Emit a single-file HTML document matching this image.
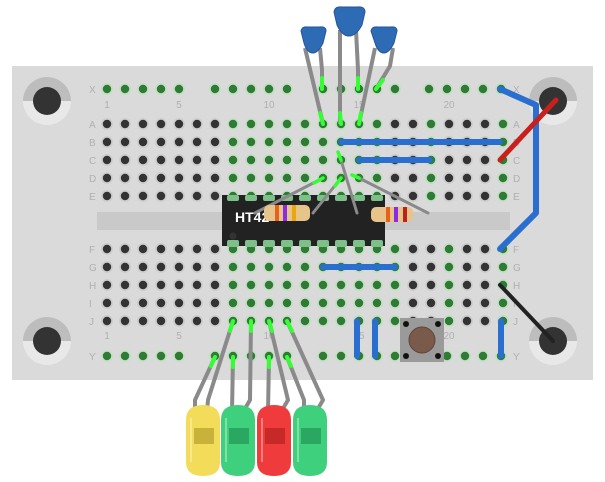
<!DOCTYPE html>
<html><head><meta charset="utf-8"><style>
html,body{margin:0;padding:0;background:#fff;width:605px;height:482px;overflow:hidden}
svg{display:block}
text{font-family:"Liberation Sans",sans-serif}
</style></head><body>
<svg id="s" width="605" height="482" viewBox="0 0 605 482" xmlns="http://www.w3.org/2000/svg">
<rect x="12" y="66" width="581" height="314" fill="#dadada"/>
<rect x="97" y="212" width="413" height="18" fill="#c9c9c9"/>
<g id="mounts"></g>
<g id="holes"></g>
<g id="labels" fill="#b0b0b0" font-size="10"></g>
<rect x="222" y="195" width="163" height="51" fill="#222"/>
<circle cx="233" cy="236" r="3.5" fill="#333"/>
<text x="235" y="222" fill="#fff" font-size="14" font-weight="bold">HT42</text>
<g id="pins" fill="#7fbf8a"></g>
<g stroke="#8a8a8a" stroke-width="3" fill="none" stroke-linecap="round">
<path d="M255 213 L323 178"/><path d="M313 213 L341 178"/>
<path d="M357 213 L341 160"/><path d="M428 213 L359 178"/>
</g>
<g stroke="#3f3" stroke-width="3.5" stroke-linecap="round">
<path d="M314 183 L323 178"/><path d="M335 186 L341 178"/>
<path d="M338 152 L341 160"/><path d="M352 175 L359 178"/>
</g>
<g>
<rect x="264" y="205" width="46" height="16" rx="5" fill="#e6c48a"/>
<rect x="275" y="205" width="4" height="16" fill="#e8601c"/><rect x="283" y="205" width="4" height="16" fill="#8b2be2"/><rect x="292" y="205" width="4" height="16" fill="#e8a80c"/>
<rect x="371" y="207" width="42" height="15" rx="5" fill="#e6c48a"/>
<rect x="386" y="207" width="4" height="15" fill="#e8601c"/><rect x="394" y="207" width="4" height="15" fill="#8b2be2"/><rect x="403" y="207" width="4" height="15" fill="#c0201c"/>
</g>
<g stroke="#2a6fd0" stroke-width="6" stroke-linecap="round" fill="none">
<path d="M341 142 L500 142"/><path d="M359 160 L430 160"/><path d="M323 267 L395 267"/>
<path d="M357 321 L357 356"/><path d="M375 321 L375 356"/><path d="M501 321 L501 356"/>
<path d="M500 89 L536 105 L536 213 L500 249" stroke-linejoin="round"/>
</g>
<path d="M500 160 L556 100" stroke="#c8201c" stroke-width="5" stroke-linecap="round"/>
<path d="M500 285 L553 341" stroke="#222" stroke-width="4" stroke-linecap="round"/>
<rect x="400" y="318" width="44" height="44" fill="#9a9a9a"/>
<circle cx="422" cy="340" r="13" fill="#7a5a4a" stroke="#5e4538"/>
<g fill="#111"><circle cx="406" cy="324" r="3"/><circle cx="438" cy="324" r="3"/><circle cx="406" cy="356" r="3"/><circle cx="438" cy="356" r="3"/></g>
<g stroke="#8a8a8a" stroke-width="4" fill="none" stroke-linejoin="round">
<path d="M305 48 L323 124"/><path d="M320 48 L322 70 L322 89"/>
<path d="M340 30 L340 124"/><path d="M356 30 L358 70 L358 89"/>
<path d="M375 48 L359 124"/><path d="M393 48 L390 66 L376 89"/>
</g>
<g stroke="#3f3" stroke-width="4" stroke-linecap="round">
<path d="M322 78 L322 89"/><path d="M358 78 L358 89"/><path d="M383 80 L376 89"/>
<path d="M320 113 L323 124"/><path d="M340 113 L341 124"/><path d="M361 113 L359 124"/>
</g>
<g fill="#2d6cb5" stroke="#24569a">
<path d="M301 31 Q302 26 308 27 L319 27 Q326 26 326 31 L323 43 Q318 53 313 53 Q307 53 304 43 Z"/>
<path d="M334 12 Q335 6 342 7 L357 7 Q365 6 365 12 L362 25 Q356 36 349 36 Q342 36 337 25 Z"/>
<path d="M371 31 Q372 26 378 27 L390 27 Q397 26 397 31 L394 43 Q389 53 384 53 Q378 53 375 43 Z"/>
</g>
<g stroke="#8a8a8a" stroke-width="4" fill="none" stroke-linejoin="round">
<path d="M215 357 L195 400 L195 412"/><path d="M233 321 L208 400 L207 412"/>
<path d="M233 357 L232 412"/><path d="M251 321 L250 400 L243 412"/>
<path d="M269 357 L268 412"/><path d="M269 321 L288 400 L281 412"/>
<path d="M287 357 L304 400 L304 412"/><path d="M287 321 L323 400 L316 412"/>
</g>
<g stroke="#3f3" stroke-width="4" stroke-linecap="round">
<path d="M215 357 L211 366"/><path d="M233 321 L230 331"/><path d="M233 357 L233 367"/><path d="M251 321 L251 331"/>
<path d="M269 357 L269 367"/><path d="M269 321 L272 331"/><path d="M287 357 L291 366"/><path d="M287 321 L292 331"/>
</g>
<g id="leds"></g>
</svg>
<script>
var NS="http://www.w3.org/2000/svg";
function el(p,t,a){var e=document.createElementNS(NS,t);for(var k in a)e.setAttribute(k,a[k]);p.appendChild(e);return e}
var H=document.getElementById('holes'),L=document.getElementById('labels'),M=document.getElementById('mounts');
function X(c){return 107+18*(c-1)}
function hole(x,y,g){el(H,'circle',{cx:x,cy:y,r:6,fill:g?'#c4dfc4':'#cdcdcd'});el(H,'circle',{cx:x,cy:y,r:4.2,fill:g?'#2f7a34':'#333'})}
var gTop=[8,9,10,11,12,13,14,15,16,19,23],gBot=[8,9,10,11,12,13,14,15,16,17,20,23];
var rowsT=[124,142,160,178,196],rowsB=[249,267,285,303,321];
for(var c=1;c<=23;c++){rowsT.forEach(function(y){hole(X(c),y,gTop.indexOf(c)>=0)});rowsB.forEach(function(y){hole(X(c),y,gBot.indexOf(c)>=0)});}
var rails=[107,125,143,161,179,215,233,251,269,287,323,341,359,377,395,429,447,465,483,501];
rails.forEach(function(x){hole(x,89,true);hole(x,356,true)});
"ABCDE".split('').forEach(function(l,i){var t=el(L,'text',{x:89,y:rowsT[i]+4});t.textContent=l;t=el(L,'text',{x:513,y:rowsT[i]+4});t.textContent=l});
"FGHIJ".split('').forEach(function(l,i){var t=el(L,'text',{x:89,y:rowsB[i]+4});t.textContent=l;t=el(L,'text',{x:513,y:rowsB[i]+4});t.textContent=l});
[[89,'X'],[356,'Y']].forEach(function(a){var t=el(L,'text',{x:89,y:a[0]+4});t.textContent=a[1];t=el(L,'text',{x:513,y:a[0]+4});t.textContent=a[1]});
[1,5,10,15,20].forEach(function(n){[108,339].forEach(function(y){var t=el(L,'text',{x:X(n),y:y,'text-anchor':'middle'});t.textContent=n})});
[[47,101],[553,101],[47,341],[553,341]].forEach(function(p){el(M,'circle',{cx:p[0],cy:p[1],r:24,fill:'#e8e8e8'});el(M,'path',{d:'M'+(p[0]-24)+' '+p[1]+' A24 24 0 0 1 '+(p[0]+24)+' '+p[1]+' Z',fill:'#bdbdbd'});el(M,'circle',{cx:p[0],cy:p[1],r:14,fill:'#333'})});
var P=document.getElementById('pins');
for(var i=0;i<9;i++){var x=X(8)+18*i;el(P,'rect',{x:x-6,y:195,width:12,height:6,rx:2});el(P,'rect',{x:x-6,y:240,width:12,height:7,rx:2})}
var LD=document.getElementById('leds');
[[186,'#f2dc5a','#c9b23a'],[221,'#3fd07e','#2aa862'],[257,'#ef3b3b','#c72828'],[293,'#3fd07e','#2aa862']].forEach(function(a){var x=a[0];
el(LD,'path',{d:'M'+x+' 420 Q'+x+' 405 '+(x+17)+' 405 Q'+(x+34)+' 405 '+(x+34)+' 420 L'+(x+34)+' 462 Q'+(x+34)+' 476 '+(x+17)+' 476 Q'+x+' 476 '+x+' 462 Z',fill:a[1]});
el(LD,'rect',{x:x+8,y:428,width:20,height:16,fill:a[2]});
el(LD,'path',{d:'M'+(x+5)+' 418 L'+(x+5)+' 462',stroke:'#fff','stroke-opacity':0.35,'stroke-width':2});});
</script>
</body></html>
